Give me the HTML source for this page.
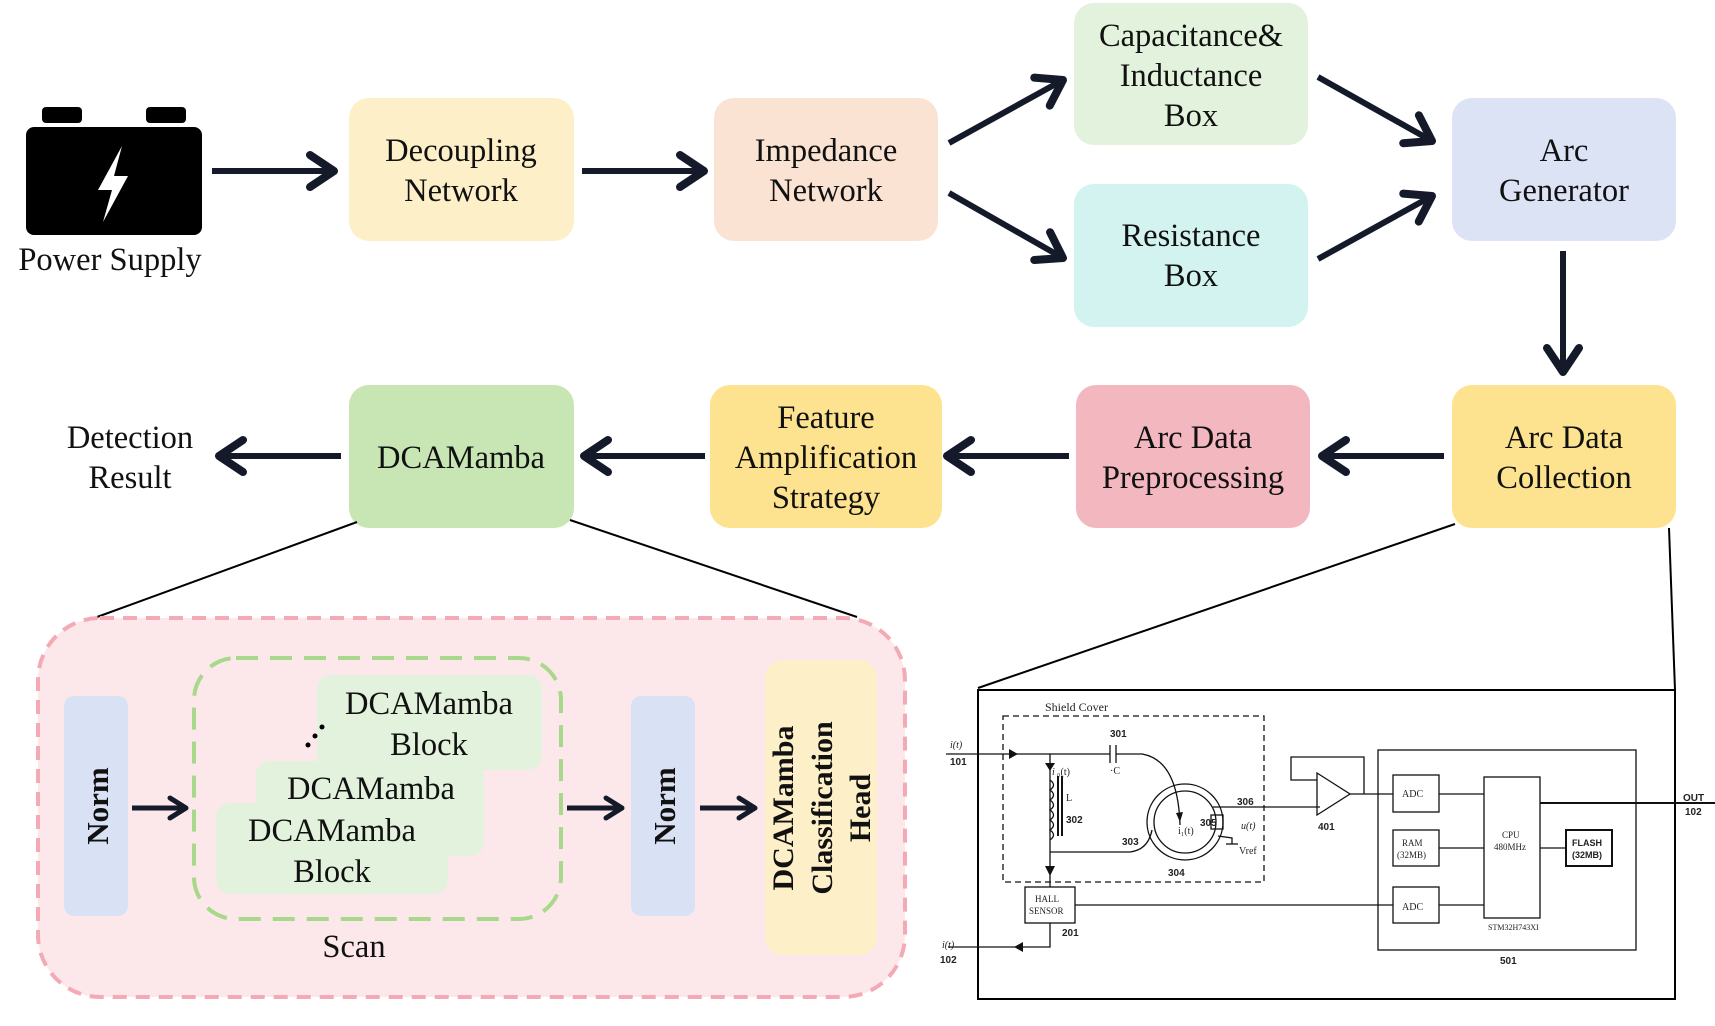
<!DOCTYPE html>
<html><head><meta charset="utf-8"><style>
html,body{margin:0;padding:0;background:#fff;}
svg{display:block;}
text{font-family:"Liberation Serif",serif;fill:#111;}
.t{font-size:32.5px;text-anchor:middle;}
.c{font-family:"Liberation Serif",serif;font-size:10px;fill:#222;}
.cb{font-family:"Liberation Sans",sans-serif;font-size:10px;font-weight:bold;fill:#222;}
</style></head><body>
<svg width="1715" height="1026" viewBox="0 0 1715 1026" xmlns="http://www.w3.org/2000/svg">
<defs>
<marker id="ah" markerUnits="userSpaceOnUse" markerWidth="40" markerHeight="40" viewBox="0 0 30 30" refX="24" refY="15" orient="auto">
<path d="M6,3 L24,15 L6,27" fill="none" stroke="#141a2a" stroke-width="6" stroke-linecap="round" stroke-linejoin="round"/>
</marker>
<marker id="ahs" markerUnits="userSpaceOnUse" markerWidth="30" markerHeight="30" viewBox="0 0 30 30" refX="24" refY="15" orient="auto">
<path d="M8,5 L24,15 L8,25" fill="none" stroke="#141a2a" stroke-width="5" stroke-linecap="round" stroke-linejoin="round"/>
</marker>
</defs>

<!-- battery -->
<rect x="42" y="107" width="40" height="16" rx="4" fill="#000"/>
<rect x="146" y="107" width="40" height="16" rx="4" fill="#000"/>
<rect x="26" y="127" width="176" height="108" rx="8" fill="#000"/>
<path d="M122,146 L98,190 L112,190 L103,222 L128,176 L114,176 Z" fill="#fff"/>
<text class="t" x="110" y="270">Power Supply</text>

<!-- boxes row 1 -->
<rect x="349" y="98" width="225" height="143" rx="20" fill="#fdf0c8"/>
<text class="t" x="461" y="161">Decoupling</text><text class="t" x="461" y="201">Network</text>
<rect x="714" y="98" width="224" height="143" rx="20" fill="#fbe3d3"/>
<text class="t" x="826" y="161">Impedance</text><text class="t" x="826" y="201">Network</text>
<rect x="1074" y="3" width="234" height="142" rx="20" fill="#e3f2dc"/>
<text class="t" x="1191" y="46">Capacitance&amp;</text><text class="t" x="1191" y="86">Inductance</text><text class="t" x="1191" y="126">Box</text>
<rect x="1074" y="184" width="234" height="143" rx="20" fill="#d3f3f0"/>
<text class="t" x="1191" y="246">Resistance</text><text class="t" x="1191" y="286">Box</text>
<rect x="1452" y="98" width="224" height="143" rx="20" fill="#dce3f5"/>
<text class="t" x="1564" y="161">Arc</text><text class="t" x="1564" y="201">Generator</text>

<!-- row 2 -->
<rect x="1452" y="385" width="224" height="143" rx="20" fill="#fde38f"/>
<text class="t" x="1564" y="448">Arc Data</text><text class="t" x="1564" y="488">Collection</text>
<rect x="1076" y="385" width="234" height="143" rx="20" fill="#f3b7c0"/>
<text class="t" x="1193" y="448">Arc Data</text><text class="t" x="1193" y="488">Preprocessing</text>
<rect x="710" y="385" width="232" height="143" rx="20" fill="#fde38f"/>
<text class="t" x="826" y="428">Feature</text><text class="t" x="826" y="468">Amplification</text><text class="t" x="826" y="508">Strategy</text>
<rect x="349" y="385" width="225" height="143" rx="20" fill="#c8e6b3"/>
<text class="t" x="461" y="468">DCAMamba</text>
<text class="t" x="130" y="448">Detection</text><text class="t" x="130" y="488">Result</text>

<!-- arrows -->
<g stroke="#141a2a" stroke-width="6" fill="none" marker-end="url(#ah)">
<line x1="212" y1="171" x2="334" y2="171"/>
<line x1="582" y1="171" x2="704" y2="171"/>
<line x1="949" y1="143" x2="1063" y2="80"/>
<line x1="949" y1="193" x2="1063" y2="258"/>
<line x1="1318" y1="77" x2="1432" y2="141"/>
<line x1="1318" y1="259" x2="1432" y2="196"/>
<line x1="1563" y1="251" x2="1563" y2="372"/>
<line x1="1444" y1="456" x2="1322" y2="456"/>
<line x1="1069" y1="456" x2="947" y2="456"/>
<line x1="705" y1="456" x2="584" y2="456"/>
<line x1="341" y1="456" x2="219" y2="456"/>
</g>

<!-- zoom lines -->
<g stroke="#000" stroke-width="2">
<line x1="357" y1="522" x2="97" y2="617"/>
<line x1="570" y1="520" x2="857" y2="617"/>
<line x1="1455" y1="524" x2="978" y2="688"/>
<line x1="1669" y1="528" x2="1675" y2="690"/>
</g>

<!-- pink panel -->
<rect x="38" y="618" width="867" height="379" rx="62" fill="#fce8ea" stroke="#f4aab5" stroke-width="4" stroke-dasharray="14,9"/>
<rect x="194" y="658" width="367" height="261" rx="42" fill="none" stroke="#a8d88a" stroke-width="4" stroke-dasharray="22,12"/>
<rect x="64" y="696" width="64" height="220" rx="10" fill="#d9e2f5"/>
<rect x="631" y="696" width="64" height="220" rx="10" fill="#d9e2f5"/>
<text x="108" y="806" transform="rotate(-90 108 806)" style="font-size:31px;font-weight:bold;text-anchor:middle">Norm</text>
<text x="675" y="806" transform="rotate(-90 675 806)" style="font-size:31px;font-weight:bold;text-anchor:middle">Norm</text>
<rect x="765" y="660" width="112" height="295" rx="18" fill="#fdf0c8"/>
<g style="font-size:30px;font-weight:bold;text-anchor:middle">
<text x="793" y="808" transform="rotate(-90 793 808)">DCAMamba</text>
<text x="832" y="808" transform="rotate(-90 832 808)">Classification</text>
<text x="870" y="808" transform="rotate(-90 870 808)">Head</text>
</g>
<rect x="317" y="675" width="225" height="95" rx="14" fill="#e3f2dc"/>
<rect x="256" y="761" width="228" height="95" rx="14" fill="#e3f2dc"/>
<rect x="216" y="803" width="232" height="91" rx="14" fill="#e3f2dc"/>
<text class="t" x="429" y="714">DCAMamba</text><text class="t" x="429" y="755">Block</text>
<text class="t" x="371" y="799">DCAMamba</text>
<text class="t" x="332" y="841">DCAMamba</text><text class="t" x="332" y="882">Block</text>
<circle cx="308" cy="745" r="2.5" fill="#000"/><circle cx="315" cy="736" r="2.5" fill="#000"/><circle cx="322" cy="727" r="2.5" fill="#000"/>
<text class="t" x="354" y="957">Scan</text>
<g stroke="#141a2a" stroke-width="5" fill="none" marker-end="url(#ahs)">
<line x1="132" y1="808" x2="186" y2="808"/>
<line x1="567" y1="808" x2="622" y2="808"/>
<line x1="700" y1="808" x2="755" y2="808"/>
</g>

<!-- circuit -->
<rect x="978" y="690" width="697" height="309" fill="#fff" stroke="#000" stroke-width="2"/>
<g stroke="#111" stroke-width="1.3" fill="none">
<rect x="1003" y="716" width="261" height="166" stroke-dasharray="6,4"/>
<polyline points="946,754 1050,754 1050,887"/>
<polyline points="1050,754 1110,754"/><line x1="1110" y1="745" x2="1110" y2="763"/><line x1="1116" y1="745" x2="1116" y2="763"/>
<path d="M1116,754 L1142,754 Q1178,760 1180,825"/>
<path d="M1050,852 L1130,852 Q1148,850 1152,830"/>
<path d="M1050,780 q7,5 0,10 q7,5 0,10 q7,5 0,10 q7,5 0,10 q7,5 0,10 q7,5 0,10"/>
<line x1="1058" y1="776" x2="1058" y2="836" stroke-width="2"/><line x1="1062" y1="776" x2="1062" y2="836" stroke-width="2"/>
<circle cx="1185" cy="822" r="38"/><circle cx="1185" cy="822" r="31"/>
<polyline points="1213,807 1320,807"/>
<rect x="1211" y="815" width="12" height="14"/>
<polyline points="1218,836 1232,838 1232,844"/><line x1="1226" y1="844" x2="1238" y2="844"/>
<polygon points="1317,773 1350,794 1317,815"/>
<polyline points="1317,780 1291,780 1291,757 1364,757 1364,794"/>
<polyline points="1350,794 1393,794"/>
<rect x="1378" y="750" width="258" height="200"/>
<rect x="1393" y="775" width="46" height="37"/>
<rect x="1393" y="830" width="46" height="36"/>
<rect x="1393" y="887" width="46" height="36"/>
<rect x="1484" y="777" width="56" height="141"/>
<rect x="1566" y="830" width="46" height="36" stroke-width="2"/>
<line x1="1439" y1="794" x2="1484" y2="794"/><line x1="1439" y1="848" x2="1484" y2="848"/><line x1="1439" y1="905" x2="1484" y2="905"/>
<line x1="1540" y1="848" x2="1566" y2="848"/>
<line x1="1540" y1="803" x2="1715" y2="803" stroke-width="2"/>
<rect x="1025" y="887" width="50" height="36"/>
<line x1="1075" y1="905" x2="1393" y2="905"/>
<polyline points="1050,923 1050,947 948,947"/>
</g>
<g fill="#111">
<polygon points="1009,749 1018,754 1009,759"/>
<polygon points="1045,763 1055,763 1050,771"/>
<polygon points="1045,866 1055,866 1050,876"/>
<polygon points="1023,942 1023,952 1014,947"/>
<polygon points="1176,813 1183,812 1180,822"/>
</g>
<text class="c" x="1045" y="711" style="font-size:12px">Shield Cover</text>
<text class="cb" x="1110" y="737">301</text>
<text class="c" x="1110" y="774">·C</text>
<text class="c" x="1052" y="775" style="font-style:italic">i</text><text class="c" x="1057" y="775">₀(t)</text>
<text class="c" x="1066" y="801">L</text>
<text class="cb" x="1066" y="823">302</text>
<text class="cb" x="1122" y="845">303</text>
<text class="cb" x="1168" y="876">304</text>
<text class="cb" x="1200" y="826">305</text>
<text class="cb" x="1237" y="805">306</text>
<text class="c" x="1178" y="834">i₁(t)</text>
<text class="c" x="1241" y="829" style="font-style:italic">u(t)</text>
<text class="c" x="1239" y="854">Vref</text>
<text class="cb" x="1318" y="830">401</text>
<text class="c" x="1402" y="797">ADC</text>
<text class="c" x="1402" y="910">ADC</text>
<text class="c" x="1402" y="846" style="font-size:9px">RAM</text><text class="c" x="1397" y="858" style="font-size:9px">(32MB)</text>
<text class="c" x="1502" y="838" style="font-size:9px">CPU</text><text class="c" x="1494" y="850" style="font-size:9px">480MHz</text>
<text class="c" x="1488" y="930" style="font-size:8px">STM32H743XI</text>
<text class="cb" x="1572" y="846" style="font-size:9px">FLASH</text><text class="cb" x="1572" y="858" style="font-size:9px">(32MB)</text>
<text class="cb" x="1500" y="964">501</text>
<text class="c" x="1035" y="902" style="font-size:9px">HALL</text><text class="c" x="1029" y="914" style="font-size:9px">SENSOR</text>
<text class="cb" x="1062" y="936">201</text>
<text class="c" x="950" y="748" style="font-style:italic">i(t)</text><text class="cb" x="950" y="765">101</text>
<text class="c" x="942" y="948" style="font-style:italic">i(t)</text><text class="cb" x="940" y="963">102</text>
<text class="cb" x="1683" y="801">OUT</text><text class="cb" x="1685" y="815">102</text>
</svg>
</body></html>
